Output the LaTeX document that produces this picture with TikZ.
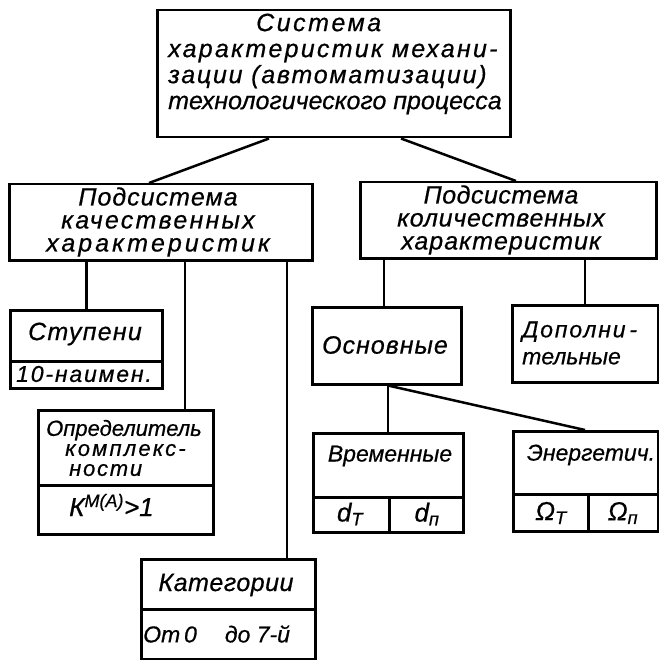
\documentclass[tikz,border=0pt]{standalone}
\usepackage{fontspec}
\setmainfont{Liberation Sans}[FakeBold=0.6]
\newcommand\lsp[1]{\addfontfeature{LetterSpace=#1}}
\begin{document}
\begin{tikzpicture}[x=1pt,y=-1pt,
  box/.style={draw, line width=2.5pt, rectangle, inner sep=0pt, anchor=north west},
  txt/.style={inner sep=0pt, font=\fontsize{23}{26}\selectfont\itshape},
  big/.style={font=\fontsize{25}{26}\selectfont\itshape},
  con/.style={line width=2.5pt}]
\useasboundingbox (0,0) rectangle (658,660);
% boxes
\node[box, minimum width=353pt, minimum height=127pt] (T) at (156,9) {};
\node[box, minimum width=303pt, minimum height=76pt] (L) at (8,183) {};
\node[box, minimum width=296pt, minimum height=76pt] (R) at (359,181) {};
\node[box, minimum width=152pt, minimum height=51pt] (S1) at (9,309) {};
\node[box, minimum width=152pt, minimum height=27pt] (S2) at (9,360) {};
\node[box, minimum width=175pt, minimum height=75pt] (O1) at (37,409) {};
\node[box, minimum width=175pt, minimum height=49pt] (O2) at (37,484) {};
\node[box, minimum width=174pt, minimum height=50pt] (K1) at (140,558) {};
\node[box, minimum width=174pt, minimum height=50pt] (K2) at (140,608) {};
\node[box, minimum width=149pt, minimum height=77pt] (Osn) at (311,306) {};
\node[box, minimum width=146pt, minimum height=77pt] (Dop) at (511,304) {};
\node[box, minimum width=150pt, minimum height=64pt] (V1) at (312,432) {};
\node[box, minimum width=76pt, minimum height=35pt] (V2a) at (312,496) {};
\node[box, minimum width=74pt, minimum height=35pt] (V2b) at (388,496) {};
\node[box, minimum width=145pt, minimum height=63pt] (E1) at (512,430) {};
\node[box, minimum width=75pt, minimum height=37pt] (E2a) at (512,493) {};
\node[box, minimum width=70pt, minimum height=37pt] (E2b) at (587,493) {};
% texts
\node[txt, big, anchor=west, align=left] (Tt) at (168,64)
  {\hspace*{88pt}{\lsp{10}Система}\\{\lsp{9}характеристик механи-}\\{\lsp{7}зации (автоматизации)}\\технологического процесса};
\node[txt, align=center, font=\fontsize{25}{23}\selectfont\itshape] (Lt) at (158,222)
  {{\lsp{4}Подсистема}\\{\lsp{9}качественных}\\{\lsp{12}характеристик}};
\node[txt, align=center, font=\fontsize{25}{23}\selectfont\itshape] (Rt) at (501,220)
  {{\lsp{2}Подсистема}\\{\lsp{3}количественных}\\{\lsp{4}характеристик}};
\node[txt, big] (S1t) at (85,334) {\lsp{5}Ступени};
\node[txt] (S2t) at (84,374) {\lsp{8}10-наимен.};
\node[txt, anchor=west, align=left, font=\fontsize{22}{20}\selectfont\itshape] (O1t) at (46,448)
  {Определитель\\\hspace*{19pt}{\lsp{10}комплекс-}\\\hspace*{23pt}{\lsp{8}ности}};
\node[txt, anchor=west, font=\fontsize{26}{26}\selectfont\itshape] (O2t) at (69,505)
  {К\textsuperscript{\fontsize{18}{18}\selectfont М(А)}>1};
\node[txt, big] (K1t) at (226,585) {\lsp{2}Категории};
\node[txt, anchor=west] (K2t) at (143,634) {От\,0\hspace{28pt}до 7-й};
\node[txt, big] (Osnt) at (385,345) {\lsp{4}Основные};
\node[txt, anchor=west, align=left, font=\fontsize{23}{27}\selectfont\itshape] (Dopt) at (522,343)
  {{\lsp{8}Дополни\,-}\\тельные};
\node[txt] (V1t) at (390,456) {Временные};
\node[txt, font=\fontsize{26}{26}\selectfont\itshape] (V2at) at (350,514) {d\textsubscript{Т}};
\node[txt, font=\fontsize{26}{26}\selectfont\itshape] (V2bt) at (427,514) {d\textsubscript{п}};
\node[txt] (E1t) at (591,455) {Энергетич.};
\node[txt, font=\fontsize{26}{26}\selectfont\itshape] (E2at) at (551,513) {Ω\textsubscript{Т}};
\node[txt, font=\fontsize{26}{26}\selectfont\itshape] (E2bt) at (623,513) {Ω\textsubscript{п}};
% connectors
\draw[con] ([xshift=113pt]T.south west) -- ([xshift=141pt]L.north west);
\draw[con] ([xshift=245pt]T.south west) -- ([xshift=157pt]R.north west);
\draw[con] (S1.north) -- (S1.north |- L.south);
\draw[con] (185,0 |- L.south) -- (185,0 |- O1.north);
\draw[con] (287,0 |- L.south) -- (287,0 |- K1.north);
\draw[con] (384,0 |- R.south) -- (384,0 |- Osn.north);
\draw[con] (585,0 |- R.south) -- (585,0 |- Dop.north);
\draw[con] (388,0 |- Osn.south) -- (388,0 |- V1.north);
\draw[con] (388,0 |- Osn.south) -- (585,0 |- E1.north);
\end{tikzpicture}
\end{document}
